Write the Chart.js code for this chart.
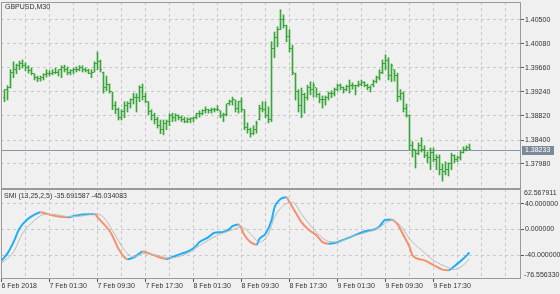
<!DOCTYPE html>
<html>
<head>
<meta charset="utf-8">
<script src="https://cdn.jsdelivr.net/npm/chart.js@4.4.1/dist/chart.umd.min.js"></script>
<style>
  html, body { margin: 0; padding: 0; background: #f0f0f0; }
  #wrap { position: relative; width: 560px; height: 294px; overflow: hidden; }
  canvas { position: absolute; left: 0; top: 0; }
</style>
</head>
<body>
<div id="wrap">
  <canvas id="price" width="560" height="294"></canvas>
  <canvas id="smi" width="560" height="294"></canvas>
</div>
<script>
// GBPUSD M30 bars (bar 1 = first visible bar after 6 Feb 2018 17:30)
const symbolTitle = 'GBPUSD,M30';
const lastPrice = 1.38233;

const highs = [
  1.3928,1.3935,1.3963,1.3977,1.3973,1.3978,1.3980,1.3975,1.3970,1.3966,
  1.3956,1.3952,1.3952,1.3956,1.3963,1.3961,1.3963,1.3966,1.3963,1.3970,
  1.3971,1.3968,1.3963,1.3966,1.3968,1.3970,1.3970,1.3966,1.3964,1.3963,
  1.3977,1.3994,1.3980,1.3959,1.3952,1.3938,1.3924,1.3907,1.3896,1.3893,
  1.3907,1.3907,1.3912,1.3922,1.3921,1.3935,1.3938,1.3922,1.3907,1.3893,
  1.3887,1.3880,1.3875,1.3875,1.3875,1.3886,1.3887,1.3886,1.3884,1.3882,
  1.3880,1.3879,1.3879,1.3880,1.3887,1.3891,1.3893,1.3898,1.3894,1.3896,
  1.3896,1.3900,1.3891,1.3887,1.3903,1.3910,1.3915,1.3910,1.3908,1.3914,
  1.3893,1.3870,1.3861,1.3865,1.3873,1.3901,1.3907,1.3907,1.3898,1.4012,
  1.4029,1.4038,1.4068,1.4059,1.4041,1.4033,1.4006,1.3957,1.3928,1.3931,
  1.3922,1.3936,1.3942,1.3940,1.3931,1.3922,1.3917,1.3917,1.3924,1.3926,
  1.3931,1.3938,1.3938,1.3933,1.3936,1.3945,1.3940,1.3936,1.3943,1.3945,
  1.3942,1.3938,1.3935,1.3945,1.3952,1.3963,1.3980,1.3989,1.3984,1.3973,
  1.3963,1.3957,1.3928,1.3924,1.3903,1.3884,1.3837,1.3823,1.3835,1.3844,
  1.3830,1.3819,1.3826,1.3826,1.3814,1.3814,1.3798,1.3802,1.3800,1.3817,
  1.3814,1.3812,1.3821,1.3828,1.3830,1.3833
];
const lows = [
  1.3907,1.3910,1.3931,1.3949,1.3956,1.3963,1.3966,1.3961,1.3957,1.3954,
  1.3945,1.3942,1.3943,1.3945,1.3950,1.3952,1.3954,1.3956,1.3952,1.3949,
  1.3959,1.3954,1.3954,1.3956,1.3959,1.3961,1.3959,1.3959,1.3956,1.3949,
  1.3959,1.3963,1.3959,1.3922,1.3926,1.3922,1.3893,1.3886,1.3875,1.3875,
  1.3879,1.3889,1.3896,1.3903,1.3889,1.3907,1.3910,1.3905,1.3884,1.3875,
  1.3868,1.3861,1.3851,1.3849,1.3858,1.3865,1.3872,1.3873,1.3875,1.3872,
  1.3870,1.3870,1.3870,1.3872,1.3877,1.3880,1.3884,1.3887,1.3887,1.3887,
  1.3889,1.3891,1.3879,1.3872,1.3882,1.3901,1.3901,1.3889,1.3887,1.3889,
  1.3858,1.3852,1.3845,1.3849,1.3852,1.3875,1.3889,1.3879,1.3870,1.3872,
  1.3984,1.4003,1.4033,1.4036,1.4012,1.3994,1.3954,1.3910,1.3889,1.3879,
  1.3887,1.3910,1.3919,1.3915,1.3915,1.3905,1.3896,1.3901,1.3910,1.3914,
  1.3917,1.3926,1.3928,1.3922,1.3926,1.3922,1.3929,1.3919,1.3933,1.3935,
  1.3933,1.3928,1.3924,1.3933,1.3940,1.3945,1.3956,1.3963,1.3945,1.3942,
  1.3943,1.3907,1.3910,1.3889,1.3880,1.3823,1.3810,1.3791,1.3814,1.3819,
  1.3809,1.3800,1.3788,1.3802,1.3788,1.3779,1.3768,1.3779,1.3777,1.3788,
  1.3800,1.3802,1.3805,1.3817,1.3821,1.3823
];
const opens = [
  1.3915,1.3928,1.3931,1.3959,1.3963,1.3970,1.3973,1.3970,1.3966,1.3961,
  1.3956,1.3949,1.3947,1.3949,1.3954,1.3957,1.3957,1.3959,1.3959,1.3963,
  1.3966,1.3963,1.3959,1.3961,1.3963,1.3964,1.3966,1.3963,1.3961,1.3957,
  1.3959,1.3973,1.3977,1.3959,1.3931,1.3938,1.3924,1.3900,1.3893,1.3879,
  1.3889,1.3901,1.3903,1.3910,1.3915,1.3914,1.3931,1.3917,1.3907,1.3889,
  1.3882,1.3875,1.3865,1.3858,1.3868,1.3872,1.3882,1.3879,1.3882,1.3879,
  1.3875,1.3873,1.3875,1.3877,1.3879,1.3886,1.3887,1.3891,1.3893,1.3891,
  1.3893,1.3894,1.3891,1.3882,1.3884,1.3903,1.3907,1.3910,1.3896,1.3907,
  1.3893,1.3861,1.3858,1.3851,1.3858,1.3875,1.3896,1.3893,1.3882,1.3875,
  1.4001,1.4019,1.4033,1.4050,1.4040,1.4022,1.4001,1.3957,1.3924,1.3901,
  1.3919,1.3914,1.3931,1.3928,1.3931,1.3919,1.3910,1.3910,1.3914,1.3921,
  1.3922,1.3929,1.3935,1.3931,1.3929,1.3933,1.3935,1.3936,1.3935,1.3938,
  1.3940,1.3936,1.3931,1.3938,1.3943,1.3949,1.3959,1.3973,1.3980,1.3952,
  1.3963,1.3952,1.3917,1.3922,1.3896,1.3882,1.3830,1.3823,1.3816,1.3830,
  1.3823,1.3812,1.3809,1.3819,1.3805,1.3809,1.3788,1.3784,1.3788,1.3798,
  1.3812,1.3805,1.3810,1.3819,1.3824,1.3826
];
const closes = [
  1.3928,1.3931,1.3959,1.3963,1.3970,1.3973,1.3970,1.3966,1.3961,1.3956,
  1.3949,1.3947,1.3949,1.3954,1.3957,1.3957,1.3959,1.3959,1.3963,1.3966,
  1.3963,1.3959,1.3961,1.3963,1.3964,1.3966,1.3963,1.3961,1.3957,1.3959,
  1.3973,1.3977,1.3963,1.3931,1.3938,1.3924,1.3900,1.3893,1.3879,1.3889,
  1.3901,1.3903,1.3910,1.3915,1.3914,1.3931,1.3917,1.3907,1.3889,1.3882,
  1.3875,1.3865,1.3858,1.3868,1.3872,1.3882,1.3879,1.3882,1.3879,1.3875,
  1.3873,1.3875,1.3877,1.3879,1.3886,1.3887,1.3891,1.3893,1.3891,1.3893,
  1.3894,1.3893,1.3882,1.3884,1.3903,1.3907,1.3910,1.3896,1.3907,1.3893,
  1.3861,1.3858,1.3851,1.3858,1.3868,1.3896,1.3893,1.3882,1.3875,1.4001,
  1.4019,1.4033,1.4050,1.4040,1.4022,1.4001,1.3959,1.3924,1.3901,1.3919,
  1.3914,1.3931,1.3928,1.3935,1.3919,1.3910,1.3910,1.3914,1.3921,1.3922,
  1.3929,1.3935,1.3931,1.3929,1.3933,1.3935,1.3936,1.3935,1.3938,1.3940,
  1.3936,1.3931,1.3938,1.3943,1.3949,1.3959,1.3973,1.3980,1.3952,1.3970,
  1.3952,1.3917,1.3922,1.3896,1.3882,1.3830,1.3823,1.3816,1.3830,1.3823,
  1.3812,1.3809,1.3819,1.3805,1.3809,1.3788,1.3784,1.3788,1.3798,1.3812,
  1.3805,1.3810,1.3819,1.3824,1.3826,1.38233
];

const priceTicks = [1.40500, 1.40080, 1.39660, 1.39240, 1.38820, 1.38400, 1.37980];
const priceMax = 1.40815;
const priceMin = 1.375425;

// time axis: bar numbers where MT4 prints a label
const timeLabels = ['6 Feb 2018', '7 Feb 01:30', '7 Feb 09:30', '7 Feb 17:30', '8 Feb 01:30',
  '8 Feb 09:30', '8 Feb 17:30', '9 Feb 01:30', '9 Feb 09:30', '9 Feb 17:30'];
const timeLabelBars = [0, 16, 32, 48, 64, 80, 96, 112, 128, 144];
const timeGridBars = [0, 8, 16, 24, 32, 40, 48, 56, 64, 72, 80, 88, 96, 104, 112, 120, 128, 136, 144, 152, 160, 168];

// SMI (13,25,2,5) main and signal lines
const smiTitle = 'SMI (13,25,2,5) -35.691587 -45.034083';
const smiBars = [0,2,4,6,9,11,13,15,16,19,22,25,27,31,32,34,36,37,38,39,41,42,44,46,47,49,53,55,57,60,
  63,65,66,69,71,74,76,77,79,81,83,85,86,88,90,91,93,95,96,98,100,102,105,107,109,111,114,117,121,124,
  126,128,130,132,134,136,137,141,144,147,149,150,152,154,156];
const smiValues = [-48,-37,-19.5,1.5,17,23,26.7,24.5,23,20,19,21.5,23,24,19,9,-2,-10,-20,-30,-43,-46,-43.6,-37,-34,
  -36.5,-43.6,-46,-42.6,-37.4,-32,-24.6,-19.5,-11.8,-5,-4,1,5,7.7,-9,-19.5,-23.6,-14.4,-6.7,13.8,
  34,47,49.7,42,26.7,11.3,1,-9,-19.5,-22,-21,-16,-10.3,-3,-0.5,4.6,15,15,8,-9,-27,-40,-47.7,-55,-62,
  -63,-60.5,-52.8,-45,-35.691587];
const signalBars = [0,4,7,11,14,17,22,27,31,34,37,41,44,47,52,56,62,66,72,77,80,83,86,89,91,94,97,100,103,106,
  109,112,116,122,126,130,133,136,140,144,149,151,154,156];
const signalValues = [-52,-35,-6,14,23,23.5,20,21,24.5,19,-1.5,-32,-42.6,-37.4,-40,-44,-37,-25,-9,-0.5,
  3.6,-6.7,-19.5,-6.7,19,37,42,24,6,-9,-18.5,-19.5,-11.8,-4,3.6,13.8,6,-14.4,-32,-47.7,-59,-62,-55,-45.034083];
const smiTicks = [40, 0, -40];
const smiMax = 62.567911;
const smiMin = -76.55633;

// colours
const barColor = '#3aa53a';
const gridColor = '#c8c8c8';
const frameColor = '#9a9a9a';
const textColor = '#333333';
const tickColor = '#555555';
const priceLineColor = '#8796a5';
const priceBoxColor = '#7b8a99';
const smiUpColor = '#1eaef5';
const smiDownColor = '#f4916c';
const signalColor = '#b9b9b9';
const fontFamily = '"Liberation Sans", Arial, sans-serif';

Chart.defaults.font.family = fontFamily;
Chart.defaults.font.size = 7;
Chart.defaults.color = textColor;

function noPad(s) {
  s.paddingLeft = 0; s.paddingRight = 0; s.paddingTop = 0; s.paddingBottom = 0;
}

function timeAxis(withLabels) {
  return {
    type: 'linear',
    min: -1 / 6,
    max: 173 + 1 / 6,
    offset: false,
    afterBuildTicks: s => { s.ticks = timeGridBars.map(v => ({ value: v })); },
    afterFit: s => { s.height = withLabels ? 15 : 0; noPad(s); },
    ticks: {
      display: withLabels,
      autoSkip: false,
      maxRotation: 0,
      minRotation: 0,
      align: 'start',
      padding: 0,
      color: textColor,
      callback: v => {
        const k = timeLabelBars.indexOf(v);
        return k < 0 ? '' : timeLabels[k];
      }
    },
    grid: {
      color: gridColor,
      offset: false,
      drawTicks: withLabels,
      tickLength: 3,
      tickBorderDash: [],
      tickColor: ctx => (ctx.tick && timeLabelBars.includes(ctx.tick.value)) ? tickColor : 'rgba(0,0,0,0)'
    },
    border: { display: false, dash: [3, 3] }
  };
}

function valueAxis(min, max, tickValues, digits) {
  return {
    position: 'right',
    min: min,
    max: max,
    beginAtZero: false,
    afterBuildTicks: s => { s.ticks = tickValues.map(v => ({ value: v })); },
    afterFit: s => { s.width = 39; noPad(s); },
    ticks: { padding: 1, color: textColor, callback: v => v.toFixed(digits) },
    grid: { color: gridColor, drawTicks: true, tickLength: 3, tickBorderDash: [], tickColor: tickColor },
    border: { display: false, dash: [3, 3] }
  };
}

// frame + window title
const framePlugin = {
  id: 'frame',
  afterDraw(chart, args, opts) {
    const { ctx, chartArea: a } = chart;
    ctx.save();
    ctx.strokeStyle = frameColor;
    ctx.lineWidth = 1;
    ctx.strokeRect(a.left + 0.5, a.top + 0.5, a.right - a.left - 1, a.bottom - a.top - 1);
    ctx.fillStyle = textColor;
    ctx.font = '7px ' + fontFamily;
    ctx.textBaseline = 'middle';
    ctx.textAlign = 'left';
    ctx.fillText(opts.title, a.left + opts.dx, a.top + opts.dy);
    (opts.extra || []).forEach(t => {
      ctx.fillText(t.text, a.right + 3, t.atTop ? a.top + 4 : a.bottom - 4);
    });
    ctx.restore();
  }
};

// open / close ticks of the OHLC bars and the bid line
const ohlcPlugin = {
  id: 'ohlc',
  beforeDatasetsDraw(chart) {
    const { ctx, chartArea: a, scales } = chart;
    const y = Math.round(scales.y.getPixelForValue(lastPrice)) + 0.5;
    ctx.save();
    ctx.strokeStyle = priceLineColor;
    ctx.lineWidth = 1;
    ctx.beginPath();
    ctx.moveTo(a.left, y);
    ctx.lineTo(a.right, y);
    ctx.stroke();
    ctx.restore();
  },
  afterDatasetsDraw(chart) {
    const { ctx, scales } = chart;
    ctx.save();
    ctx.fillStyle = barColor;
    opens.forEach((o, i) => {
      const px = Math.floor(scales.x.getPixelForValue(i + 1));
      ctx.fillRect(px - 1, Math.floor(scales.y.getPixelForValue(o)), 1, 1);
      ctx.fillRect(px + 1, Math.floor(scales.y.getPixelForValue(closes[i])), 1, 1);
    });
    ctx.restore();
  },
  afterDraw(chart) {
    const { ctx, chartArea: a, scales } = chart;
    const yc = Math.round(scales.y.getPixelForValue(lastPrice));
    ctx.save();
    ctx.fillStyle = priceBoxColor;
    ctx.fillRect(a.right + 1, yc - 4, 32, 9);
    ctx.fillStyle = '#ffffff';
    ctx.font = '7px ' + fontFamily;
    ctx.textBaseline = 'middle';
    ctx.fillText(lastPrice.toFixed(5), a.right + 4, yc + 0.5);
    ctx.restore();
  }
};

new Chart(document.getElementById('price'), {
  type: 'bar',
  data: {
    datasets: [{
      data: highs.map((h, i) => ({ x: i + 1, y: [lows[i], h] })),
      backgroundColor: barColor,
      borderWidth: 0,
      barThickness: 1,
      grouped: false
    }]
  },
  options: {
    responsive: false,
    animation: false,
    events: [],
    layout: { padding: { left: 1, top: 2, right: 0, bottom: 105 } },
    plugins: {
      legend: { display: false },
      tooltip: { enabled: false },
      frame: { title: symbolTitle, dx: 4, dy: 5 }
    },
    scales: {
      x: timeAxis(false),
      y: valueAxis(priceMin, priceMax, priceTicks, 5)
    }
  },
  plugins: [ohlcPlugin, framePlugin]
});

new Chart(document.getElementById('smi'), {
  type: 'line',
  data: {
    datasets: [{
      data: signalBars.map((b, k) => ({ x: b, y: signalValues[k] })),
      borderColor: signalColor,
      borderWidth: 1,
      pointRadius: 0,
      cubicInterpolationMode: 'monotone'
    }, {
      data: smiBars.map((b, k) => ({ x: b, y: smiValues[k] })),
      borderColor: smiUpColor,
      borderWidth: 2,
      pointRadius: 0,
      cubicInterpolationMode: 'monotone',
      segment: {
        borderColor: ctx => ctx.p1.parsed.y >= ctx.p0.parsed.y ? smiUpColor : smiDownColor
      }
    }]
  },
  options: {
    responsive: false,
    animation: false,
    events: [],
    layout: { padding: { left: 1, top: 189, right: 0, bottom: 0 } },
    plugins: {
      legend: { display: false },
      tooltip: { enabled: false },
      frame: {
        title: smiTitle, dx: 3, dy: 7,
        extra: [{ text: smiMax.toFixed(6), atTop: true }, { text: smiMin.toFixed(6), atTop: false }]
      }
    },
    scales: {
      x: timeAxis(true),
      y: valueAxis(smiMin, smiMax, smiTicks, 6)
    }
  },
  plugins: [framePlugin]
});
</script>
</body>
</html>
